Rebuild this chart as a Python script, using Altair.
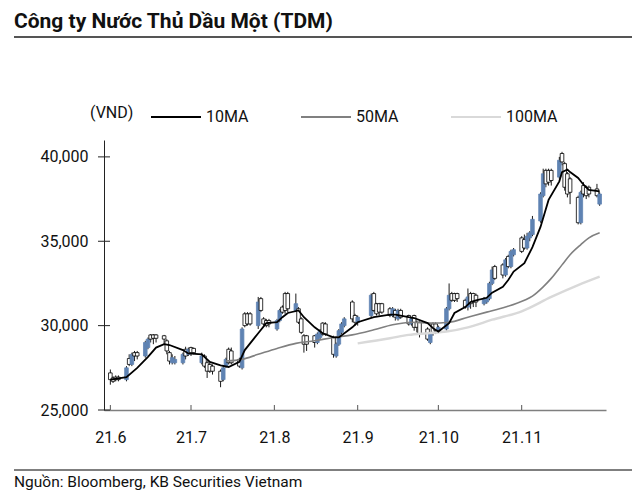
import altair as alt
import pandas as pd

# ---------------- data ----------------
trade_days = pd.bdate_range("2021-06-01", "2021-11-30")
trade_days = trade_days[~trade_days.isin(pd.to_datetime(["2021-09-02", "2021-09-03"]))]
dates = [d.strftime("%Y-%m-%dT00:00:00") for d in trade_days]

open_ = [
    # Jun
    27200, 26900, 26950, 26950, 26800, 28050, 27700, 28400, 28400, 28200, 28700,
    29450, 29450, 29450, 29400, 29100, 28400, 27800, 27800, 27800, 28600, 28300,
    # Jul
    28700, 28650, 27800, 28200, 27800, 27700, 27600, 27300, 26800, 27600, 28600,
    28500, 28000, 27500, 30700, 30700, 30700, 30000, 31600, 30400, 30300, 30300,
    # Aug
    29800, 30300, 31100, 31900, 31900, 30900, 31000, 30400, 29400, 29400, 29400,
    29000, 29300, 30150, 30100, 29300, 28200, 28900, 29600, 30000, 31400, 30600,
    # Sep
    30200, 30600, 31900, 31300, 31300, 31300, 31000, 30600, 30900, 30400, 30900,
    30600, 30100, 30600, 30200, 30200, 29800, 29000, 30100, 30100,
    # Oct
    29700, 29800, 31000, 31900, 31900, 31900, 31500, 31100, 31900, 31900, 31800,
    31300, 31400, 31600, 32500, 33500, 33600, 33000, 34100, 33500, 34200,
    # Nov
    35200, 35100, 34600, 35200, 35400, 36200, 37700, 39200, 39200, 39200, 38800,
    40200, 39600, 39000, 38700, 37600, 36100, 38300, 38200, 38200, 38100, 37200,
]
high = [
    27400, 27000, 27050, 27050, 27600, 28300, 28400, 28500, 28500, 29100, 29300,
    29500, 29500, 29500, 29450, 29200, 28500, 28300, 28200, 28400, 28750, 28700,
    28750, 28700, 28400, 28300, 27900, 27800, 27700, 27400, 27600, 28100, 28700,
    28700, 28100, 29900, 30800, 30800, 30800, 31700, 31700, 30500, 30400, 30400,
    30400, 31000, 31200, 32000, 32000, 31900, 31100, 30500, 29500, 29450, 29450,
    29600, 29800, 30200, 30200, 29400, 29000, 29800, 30200, 30500, 31500, 30700,
    30600, 31900, 32000, 31350, 31350, 31350, 31100, 31100, 31000, 31000, 31000,
    30650, 30500, 30650, 30300, 30250, 29900, 29600, 30200, 30200,
    30000, 31100, 32500, 32000, 31950, 31950, 31600, 32200, 32000, 31950, 31900,
    31700, 31700, 32600, 33500, 33600, 33700, 34000, 34200, 34500, 34600,
    35300, 35400, 35500, 35600, 36500, 37900, 39300, 39300, 39300, 39300, 40000,
    40300, 39700, 39100, 38800, 37700, 38000, 38500, 38300, 38300, 38400, 37900,
]
low = [
    26500, 26600, 26700, 26700, 26700, 27600, 27600, 27900, 28000, 28100, 28600,
    29000, 28900, 29000, 28900, 28300, 27700, 27700, 27700, 27700, 28000, 28200,
    28200, 28300, 27700, 27500, 26900, 27200, 27100, 26350, 26700, 27500, 27700,
    27700, 27500, 27400, 29900, 30000, 30000, 29800, 30800, 30000, 29900, 29900,
    29700, 30200, 30700, 30700, 30800, 30800, 30100, 29500, 28400, 28500, 28700,
    28900, 29200, 29400, 29400, 28100, 28100, 28800, 29500, 29900, 30200, 30000,
    30000, 30500, 30800, 30600, 30600, 30700, 30500, 30500, 30300, 30300, 30400,
    30000, 30000, 29700, 29600, 29300, 29100, 28900, 29400, 29500,
    29600, 29700, 30900, 31400, 31400, 31400, 31000, 30900, 31000, 31100, 31100,
    31200, 31300, 31500, 32400, 32700, 32800, 32900, 33400, 33400, 34100,
    34300, 34500, 34500, 35000, 35300, 36100, 37600, 38200, 38300, 38300, 38700,
    39500, 38000, 37600, 37200, 36000, 36000, 37600, 37500, 37600, 37600, 37100,
]
close = [
    26800, 26700, 26800, 26800, 27500, 27700, 28300, 28200, 28200, 29000, 29200,
    29200, 29250, 29250, 29200, 28500, 27900, 28100, 28000, 28300, 28200, 28600,
    28400, 28400, 28200, 27600, 27300, 27300, 27300, 26700, 27500, 28000, 27800,
    27800, 27600, 29800, 30000, 30100, 30100, 31400, 30900, 30100, 30000, 30100,
    30300, 30900, 30800, 30900, 31000, 31300, 30200, 29600, 28900, 28900, 29000,
    29500, 29700, 29500, 29500, 28300, 28900, 29700, 30100, 30400, 30400, 30200,
    30500, 31800, 30900, 30700, 30800, 30800, 30600, 31000, 30500, 30900, 30500,
    30100, 30400, 29900, 29900, 29500, 29200, 29500, 29600, 29700,
    29900, 31000, 31800, 31500, 31500, 31600, 31100, 31700, 31300, 31400, 31400,
    31600, 31600, 32500, 33300, 32800, 33000, 33900, 33500, 34400, 34500,
    34400, 34600, 35300, 35500, 36300, 37800, 39000, 38400, 38500, 38600, 39800,
    39700, 38200, 37800, 37900, 36100, 37900, 37800, 37700, 37800, 37700, 37800,
]

ma10_dates = [
    "2021-06-01", "2021-06-07", "2021-06-11", "2021-06-15", "2021-06-18", "2021-06-21",
    "2021-06-23", "2021-06-28", "2021-06-30", "2021-07-05", "2021-07-08", "2021-07-12",
    "2021-07-15", "2021-07-19", "2021-07-21", "2021-07-26", "2021-07-29", "2021-08-02",
    "2021-08-04", "2021-08-06", "2021-08-10", "2021-08-12", "2021-08-16", "2021-08-19",
    "2021-08-23", "2021-08-25", "2021-08-30", "2021-09-01", "2021-09-07", "2021-09-13",
    "2021-09-15", "2021-09-20", "2021-09-22", "2021-09-27", "2021-09-29", "2021-10-01",
    "2021-10-05", "2021-10-07", "2021-10-11", "2021-10-13", "2021-10-15", "2021-10-19",
    "2021-10-21", "2021-10-25", "2021-10-27", "2021-10-29", "2021-11-02", "2021-11-05",
    "2021-11-08", "2021-11-11", "2021-11-15", "2021-11-16", "2021-11-18", "2021-11-19",
    "2021-11-22", "2021-11-24", "2021-11-26", "2021-11-30",
]
ma10 = [
    26800, 26950, 27500, 28150, 28700, 28900,
    28850, 28550, 28350, 28300, 27850, 27650,
    27550, 27850, 28550, 29550, 30150, 30200,
    30500, 30750, 30900, 30500, 29900, 29550,
    29300, 29300, 29900, 30200, 30500, 30650,
    30650, 30500, 30450, 30150, 29850, 29650,
    30150, 30750, 31100, 31400, 31500, 31650,
    31950, 32300, 32700, 33200, 33700, 34650,
    35850, 37450, 38550, 39100, 39250, 39100,
    38750, 38350, 38050, 37950,
]
ma50_dates = [
    "2021-07-14", "2021-07-20", "2021-07-26", "2021-08-02", "2021-08-09", "2021-08-16",
    "2021-08-23", "2021-08-30", "2021-09-07", "2021-09-14", "2021-09-21", "2021-09-28",
    "2021-10-05", "2021-10-12", "2021-10-19", "2021-10-26", "2021-11-02", "2021-11-05",
    "2021-11-09", "2021-11-12", "2021-11-16", "2021-11-19", "2021-11-23", "2021-11-26",
    "2021-11-30",
]
ma50 = [
    27900, 28000, 28300, 28650, 28950, 29100,
    29300, 29450, 29750, 30050, 30200, 30150,
    30200, 30500, 30800, 31100, 31500, 31750,
    32300, 32800, 33600, 34200, 34800, 35200,
    35500,
]
ma100_dates = [
    "2021-09-01", "2021-09-13", "2021-09-20", "2021-09-27", "2021-10-04", "2021-10-12",
    "2021-10-21", "2021-11-01", "2021-11-12", "2021-11-22", "2021-11-30",
]
ma100 = [28950, 29250, 29450, 29550, 29650, 29900, 30350, 30850, 31700, 32400, 32900]

y_ticks = [25000, 30000, 35000, 40000]
month_ticks = [6, 7, 8, 9, 10, 11]
legend_labels = ["10MA", "50MA", "100MA"]
legend_colors = ["#000000", "#808080", "#d9d9d9"]

# ---------------- chart ----------------
W, H = 502, 270
FONT = "Roboto"
BLUE = "#5f83b3"
TXT = "#111111"

candles = pd.DataFrame({"date": dates, "open": open_, "high": high, "low": low, "close": close})

def ma_df(ds, vs):
    return pd.DataFrame({"date": [d + "T00:00:00" for d in ds], "v": vs})

xscale = alt.Scale(domain=[alt.DateTime(year=2021, month=5, date=31, hours=12),
                           alt.DateTime(year=2021, month=11, date=30, hours=12)])
yscale = alt.Scale(domain=[25000, 41000], nice=False, zero=False)

xaxis = alt.Axis(values=[alt.DateTime(year=2021, month=m, date=1) for m in month_ticks],
                 format="%y.%-m", formatType="time", title=None, tickSize=0,
                 labelPadding=19, labelFontSize=16, labelFont=FONT, labelColor=TXT,
                 domainColor="#7f7f7f", domainWidth=1.5, grid=False, labelFlush=False)
yaxis = alt.Axis(values=y_ticks, format=",d", title=None, tickSize=0, labelPadding=16,
                 labelFontSize=16, labelFont=FONT, labelColor=TXT,
                 domainColor="#222222", domainWidth=1, grid=False)

X = alt.X("date:T", scale=xscale, axis=xaxis, title=None)

wicks = alt.Chart(candles).mark_rule(color="black", strokeWidth=0.9).encode(
    x=X, y=alt.Y("low:Q", scale=yscale, axis=yaxis, title=None), y2="high:Q")

up = alt.datum.close >= alt.datum.open
bodies = alt.Chart(candles).mark_bar(width=3.6, strokeWidth=0.8).encode(
    x=X, y=alt.Y("open:Q", scale=yscale, axis=yaxis, title=None), y2="close:Q",
    fill=alt.condition(up, alt.value(BLUE), alt.value("white")),
    stroke=alt.condition(up, alt.value(BLUE), alt.value("black")))

def ma_line(ds, vs, color, width, interp):
    return alt.Chart(ma_df(ds, vs)).mark_line(color=color, strokeWidth=width, interpolate=interp).encode(
        x=X, y=alt.Y("v:Q", scale=yscale, axis=yaxis, title=None))

l100 = ma_line(ma100_dates, ma100, legend_colors[2], 2.4, "monotone")
l50 = ma_line(ma50_dates, ma50, legend_colors[1], 1.6, "monotone")
l10 = ma_line(ma10_dates, ma10, legend_colors[0], 1.8, "linear")

ytick_marks = alt.Chart(pd.DataFrame({"v": y_ticks})).mark_rule(color="#222222", strokeWidth=1).encode(
    x=alt.value(-6), x2=alt.value(6), y=alt.Y("v:Q", scale=yscale, axis=yaxis, title=None))

xtick_df = pd.DataFrame({"date": [f"2021-{m:02d}-01T00:00:00" for m in month_ticks]})
xtick_marks = alt.Chart(xtick_df).mark_rule(color="#555555", strokeWidth=1).encode(
    x=X, y=alt.value(H), y2=alt.value(H - 5))

one = pd.DataFrame({"a": [0]})

def text(s, x, y, size=16, weight="normal", baseline="middle"):
    return alt.Chart(pd.DataFrame({"t": [s]})).mark_text(
        align="left", baseline=baseline, font=FONT, fontSize=size, fontWeight=weight, color=TXT
    ).encode(x=alt.value(x), y=alt.value(y), text="t:N")

def hline(x1, x2, y, color, w):
    return alt.Chart(one).mark_rule(color=color, strokeWidth=w).encode(
        x=alt.value(x1), x2=alt.value(x2), y=alt.value(y))

deco = [
    text("Công ty Nước Thủ Dầu Một (TDM)", -90, -112, size=21, weight="bold", baseline="alphabetic"),
    hline(-90, 531, -103, "#555555", 2),
    text("(VND)", -14, -27),
    hline(-90, 531, 330, "#555555", 1.5),
    text("Nguồn: Bloomberg, KB Securities Vietnam", -90, 347, size=15.5, baseline="alphabetic"),
]
for i, (lab, col) in enumerate(zip(legend_labels, legend_colors)):
    x0 = 47 + i * 150
    deco.append(hline(x0, x0 + 50, -23, col, 2.2))
    deco.append(text(lab, x0 + 55, -23))

chart = alt.layer(wicks, bodies, l100, l50, l10, ytick_marks, xtick_marks, *deco).properties(
    width=W, height=H,
    padding={"left": 96, "top": 132, "right": 26, "bottom": 82},
    autosize=alt.AutoSizeParams(type="none"),
).configure_view(stroke=None)

chart.save("out.html", embed_options={"renderer": "svg", "actions": False})
